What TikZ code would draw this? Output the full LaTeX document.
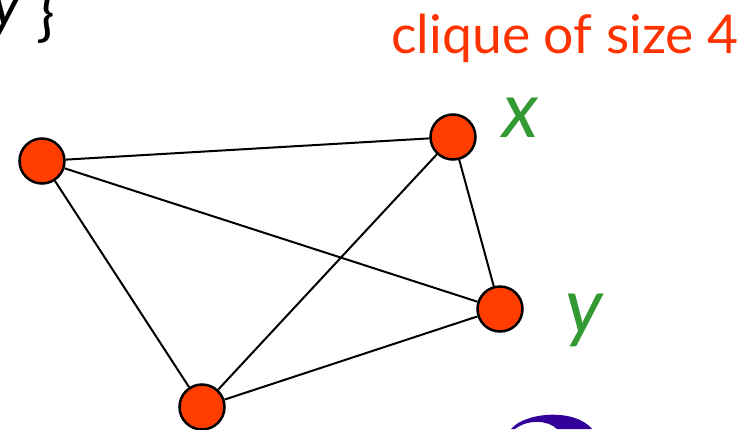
\documentclass[tikz,border=0pt]{standalone}
\usepackage{fontspec}
\setmainfont{Lato}
\usepackage{tikz}

\definecolor{vertexred}{RGB}{255,61,0}
\definecolor{cliquered}{RGB}{255,51,0}
\definecolor{namegreen}{RGB}{51,153,51}
\definecolor{ringpurple}{RGB}{51,0,153}

\tikzset{
  vertex/.style={circle, draw=black, line width=2.5pt, fill=vertexred,
    minimum size=45pt, inner sep=0pt},
  edge/.style={line width=2pt},
  vname/.style={text=namegreen, font=\fontsize{78}{80}\selectfont\itshape, inner sep=0pt}
}

\begin{document}
\begin{tikzpicture} [x=1pt, y=-1pt]
\useasboundingbox (0,0) rectangle (756,429);

% end of the set written above
\node [anchor=base east, inner sep=0pt, font=\fontsize{62}{64}\selectfont] (setend) at (55,25) {\textit{y}\hspace{14pt}\raisebox{-9pt}{\}}};

\node [anchor=base west, inner sep=0pt, text=cliquered, font=\fontsize{53.5}{56}\selectfont] (title) at (391,53) {clique of size 4};

% the four vertices
\node [vertex] (a) at (42,161) {};
\node [vertex] (x) at (453,137) {};
\node [vertex] (y) at (500,309) {};
\node [vertex] (b) at (202,407) {};

\node [vname, anchor=base west] (xname) at (502,137) {x};
\node [vname, anchor=base west] (yname) at (565,333) {y};

\draw [edge] (a)--(x);
\draw [edge] (a)--(y);
\draw [edge] (a)--(b);
\draw [edge] (x)--(y);
\draw [edge] (x)--(b);
\draw [edge] (y)--(b);

% top of the next ring
\fill [ringpurple] (511,429) .. controls (525,412) and (575,408) .. (592,429)
  -- (557,429) .. controls (548,420) and (528,419) .. (515,429) -- cycle;

\end{tikzpicture}
\end{document}
